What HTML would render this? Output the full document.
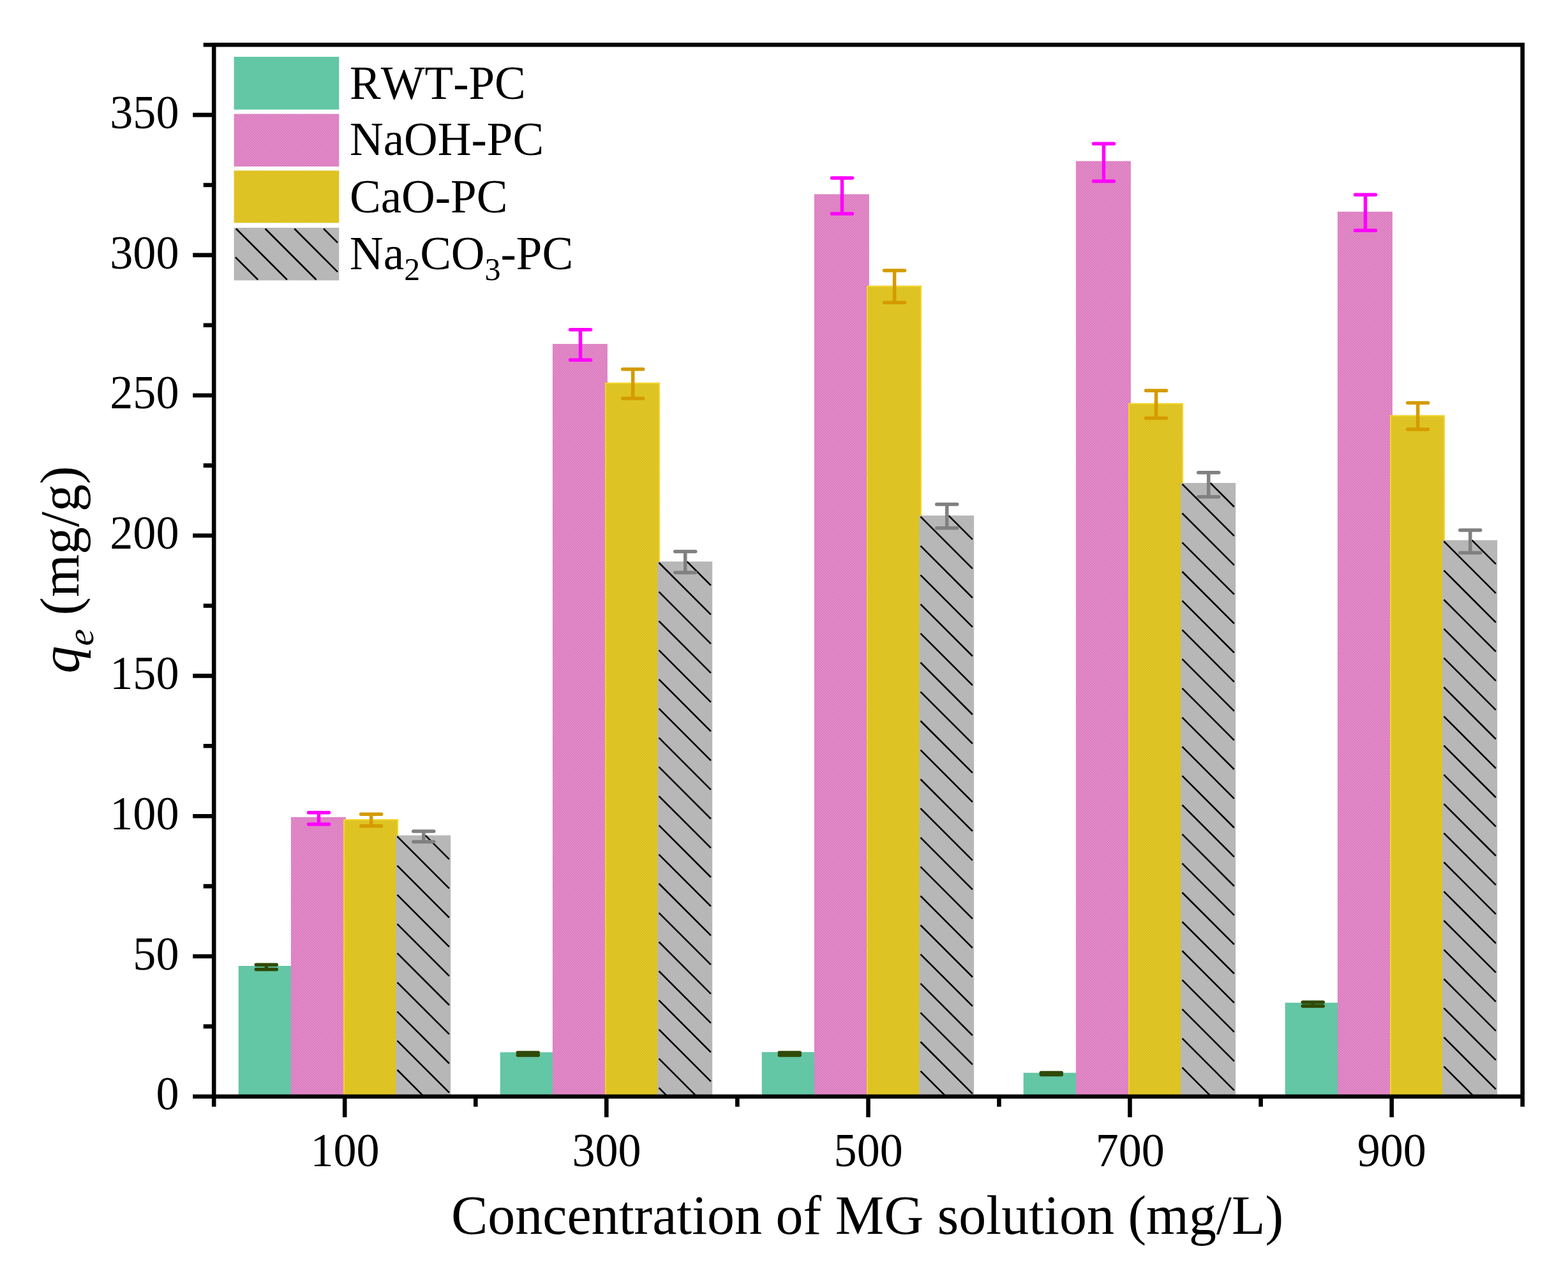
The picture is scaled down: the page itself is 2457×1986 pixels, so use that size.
<!DOCTYPE html>
<html><head><meta charset="utf-8"><title>q_e bar chart</title>
<style>html,body{margin:0;padding:0;background:#fff;}svg{display:block;}text{font-kerning:none;font-feature-settings:"kern" 0;}</style>
</head><body>
<svg width="2457" height="1986" viewBox="0 0 2457 1986"><defs><pattern id="pp" width="4" height="4" patternUnits="userSpaceOnUse"><rect width="4" height="4" fill="#e58ccb"/><rect width="2" height="2" fill="#d87cbd"/><rect x="2" y="2" width="2" height="2" fill="#d87cbd"/></pattern><pattern id="py" width="4" height="4" patternUnits="userSpaceOnUse"><rect width="4" height="4" fill="#e3c728"/><rect width="2" height="2" fill="#d9bf1f"/><rect x="2" y="2" width="2" height="2" fill="#d9bf1f"/></pattern></defs>
<rect width="2457" height="1986" fill="#fff"/>
<rect x="373.70" y="1514.00" width="86.00" height="204.80" fill="#63c6a5"/>
<rect x="455.90" y="1280.80" width="86.00" height="438.00" fill="url(#pp)"/>
<rect x="538.05" y="1284.10" width="86.00" height="434.70" fill="url(#py)"/>
<rect x="539.05" y="1285.10" width="84.00" height="434.70" fill="none" stroke="#f4d52c" stroke-width="2"/>
<rect x="620.20" y="1309.40" width="86.00" height="409.40" fill="#b7b7b7"/>
<path d="M622.5 1677.0L664.3 1718.8M622.5 1631.3L703.9 1712.7M622.5 1585.6L703.9 1667.0M622.5 1539.8L703.9 1621.2M622.5 1494.1L703.9 1575.5M622.5 1448.4L703.9 1529.8M622.5 1402.7L703.9 1484.1M622.5 1356.9L703.9 1438.3M622.5 1311.2L703.9 1392.6M666.4 1309.4L703.9 1346.9" stroke="#000" stroke-width="2.6" fill="none"/>
<rect x="783.70" y="1649.40" width="86.00" height="69.40" fill="#63c6a5"/>
<rect x="865.90" y="539.10" width="86.00" height="1179.70" fill="url(#pp)"/>
<rect x="948.05" y="599.80" width="86.00" height="1119.00" fill="url(#py)"/>
<rect x="949.05" y="600.80" width="84.00" height="1119.00" fill="none" stroke="#f4d52c" stroke-width="2"/>
<rect x="1030.20" y="880.20" width="86.00" height="838.60" fill="#b7b7b7"/>
<path d="M1032.5 1705.1L1046.2 1718.8M1032.5 1659.4L1091.9 1718.8M1032.5 1613.7L1113.9 1695.1M1032.5 1567.9L1113.9 1649.3M1032.5 1522.2L1113.9 1603.6M1032.5 1476.5L1113.9 1557.9M1032.5 1430.8L1113.9 1512.2M1032.5 1385.0L1113.9 1466.4M1032.5 1339.3L1113.9 1420.7M1032.5 1293.6L1113.9 1375.0M1032.5 1247.8L1113.9 1329.2M1032.5 1202.1L1113.9 1283.5M1032.5 1156.4L1113.9 1237.8M1032.5 1110.7L1113.9 1192.1M1032.5 1064.9L1113.9 1146.3M1032.5 1019.2L1113.9 1100.6M1032.5 973.5L1113.9 1054.9M1032.5 927.7L1113.9 1009.1M1032.5 882.0L1113.9 963.4M1076.4 880.2L1113.9 917.7" stroke="#000" stroke-width="2.6" fill="none"/>
<rect x="1193.70" y="1649.10" width="86.00" height="69.70" fill="#63c6a5"/>
<rect x="1275.90" y="304.40" width="86.00" height="1414.40" fill="url(#pp)"/>
<rect x="1358.05" y="447.80" width="86.00" height="1271.00" fill="url(#py)"/>
<rect x="1359.05" y="448.80" width="84.00" height="1271.00" fill="none" stroke="#f4d52c" stroke-width="2"/>
<rect x="1440.20" y="808.10" width="86.00" height="910.70" fill="#b7b7b7"/>
<path d="M1442.5 1678.8L1482.5 1718.8M1442.5 1633.0L1523.9 1714.4M1442.5 1587.3L1523.9 1668.7M1442.5 1541.6L1523.9 1623.0M1442.5 1495.8L1523.9 1577.2M1442.5 1450.1L1523.9 1531.5M1442.5 1404.4L1523.9 1485.8M1442.5 1358.7L1523.9 1440.1M1442.5 1312.9L1523.9 1394.3M1442.5 1267.2L1523.9 1348.6M1442.5 1221.5L1523.9 1302.9M1442.5 1175.7L1523.9 1257.1M1442.5 1130.0L1523.9 1211.4M1442.5 1084.3L1523.9 1165.7M1442.5 1038.5L1523.9 1120.0M1442.5 992.8L1523.9 1074.2M1442.5 947.1L1523.9 1028.5M1442.5 901.4L1523.9 982.8M1442.5 855.6L1523.9 937.0M1442.5 809.9L1523.9 891.3M1486.4 808.1L1523.9 845.6" stroke="#000" stroke-width="2.6" fill="none"/>
<rect x="1603.70" y="1681.60" width="86.00" height="37.20" fill="#63c6a5"/>
<rect x="1685.90" y="252.50" width="86.00" height="1466.30" fill="url(#pp)"/>
<rect x="1768.05" y="631.90" width="86.00" height="1086.90" fill="url(#py)"/>
<rect x="1769.05" y="632.90" width="84.00" height="1086.90" fill="none" stroke="#f4d52c" stroke-width="2"/>
<rect x="1850.20" y="757.00" width="86.00" height="961.80" fill="#b7b7b7"/>
<path d="M1852.5 1673.4L1897.9 1718.8M1852.5 1627.7L1933.9 1709.1M1852.5 1581.9L1933.9 1663.3M1852.5 1536.2L1933.9 1617.6M1852.5 1490.5L1933.9 1571.9M1852.5 1444.8L1933.9 1526.2M1852.5 1399.0L1933.9 1480.4M1852.5 1353.3L1933.9 1434.7M1852.5 1307.6L1933.9 1389.0M1852.5 1261.8L1933.9 1343.2M1852.5 1216.1L1933.9 1297.5M1852.5 1170.4L1933.9 1251.8M1852.5 1124.6L1933.9 1206.0M1852.5 1078.9L1933.9 1160.3M1852.5 1033.2L1933.9 1114.6M1852.5 987.4L1933.9 1068.8M1852.5 941.7L1933.9 1023.1M1852.5 896.0L1933.9 977.4M1852.5 850.3L1933.9 931.7M1852.5 804.5L1933.9 885.9M1852.5 758.8L1933.9 840.2M1896.4 757.0L1933.9 794.5" stroke="#000" stroke-width="2.6" fill="none"/>
<rect x="2013.70" y="1571.75" width="86.00" height="147.05" fill="#63c6a5"/>
<rect x="2095.90" y="331.80" width="86.00" height="1387.00" fill="url(#pp)"/>
<rect x="2178.05" y="650.80" width="86.00" height="1068.00" fill="url(#py)"/>
<rect x="2179.05" y="651.80" width="84.00" height="1068.00" fill="none" stroke="#f4d52c" stroke-width="2"/>
<rect x="2260.20" y="846.70" width="86.00" height="872.10" fill="#b7b7b7"/>
<path d="M2262.5 1717.4L2263.9 1718.8M2262.5 1671.6L2309.7 1718.8M2262.5 1625.9L2343.9 1707.3M2262.5 1580.2L2343.9 1661.6M2262.5 1534.5L2343.9 1615.8M2262.5 1488.7L2343.9 1570.1M2262.5 1443.0L2343.9 1524.4M2262.5 1397.3L2343.9 1478.7M2262.5 1351.5L2343.9 1432.9M2262.5 1305.8L2343.9 1387.2M2262.5 1260.1L2343.9 1341.5M2262.5 1214.3L2343.9 1295.7M2262.5 1168.6L2343.9 1250.0M2262.5 1122.9L2343.9 1204.3M2262.5 1077.2L2343.9 1158.5M2262.5 1031.4L2343.9 1112.8M2262.5 985.7L2343.9 1067.1M2262.5 940.0L2343.9 1021.4M2262.5 894.2L2343.9 975.6M2262.5 848.5L2343.9 929.9M2306.4 846.7L2343.9 884.2" stroke="#000" stroke-width="2.6" fill="none"/>
<path d="M401.3 1512.3H433.3M401.3 1519.5H433.3M417.3 1512.3V1519.5" stroke="#2f4a06" stroke-width="5.5" stroke-linecap="round" fill="none"/>
<path d="M483.5 1273.8H515.5M483.5 1291.9H515.5M499.5 1273.8V1291.9" stroke="#ff00ff" stroke-width="5.5" stroke-linecap="round" fill="none"/>
<path d="M565.6 1276.2H597.6M565.6 1294.7H597.6M581.6 1276.2V1294.7" stroke="#d49b00" stroke-width="5.5" stroke-linecap="round" fill="none"/>
<path d="M647.8 1303.0H679.8M647.8 1319.5H679.8M663.8 1303.0V1319.5" stroke="#808080" stroke-width="5.5" stroke-linecap="round" fill="none"/>
<path d="M811.3 1649.9H843.3M811.3 1653.9H843.3M827.3 1649.9V1653.9" stroke="#2f4a06" stroke-width="5.5" stroke-linecap="round" fill="none"/>
<path d="M893.5 516.8H925.5M893.5 564.3H925.5M909.5 516.8V564.3" stroke="#ff00ff" stroke-width="5.5" stroke-linecap="round" fill="none"/>
<path d="M975.7 578.7H1007.7M975.7 624.5H1007.7M991.7 578.7V624.5" stroke="#d49b00" stroke-width="5.5" stroke-linecap="round" fill="none"/>
<path d="M1057.8 864.6H1089.8M1057.8 897.6H1089.8M1073.8 864.6V897.6" stroke="#808080" stroke-width="5.5" stroke-linecap="round" fill="none"/>
<path d="M1221.3 1649.9H1253.3M1221.3 1653.9H1253.3M1237.3 1649.9V1653.9" stroke="#2f4a06" stroke-width="5.5" stroke-linecap="round" fill="none"/>
<path d="M1303.5 278.9H1335.5M1303.5 335.0H1335.5M1319.5 278.9V335.0" stroke="#ff00ff" stroke-width="5.5" stroke-linecap="round" fill="none"/>
<path d="M1385.6 424.0H1417.6M1385.6 474.3H1417.6M1401.6 424.0V474.3" stroke="#d49b00" stroke-width="5.5" stroke-linecap="round" fill="none"/>
<path d="M1467.8 790.4H1499.8M1467.8 827.8H1499.8M1483.8 790.4V827.8" stroke="#808080" stroke-width="5.5" stroke-linecap="round" fill="none"/>
<path d="M1631.3 1681.5H1663.3M1631.3 1684.5H1663.3M1647.3 1681.5V1684.5" stroke="#2f4a06" stroke-width="5.5" stroke-linecap="round" fill="none"/>
<path d="M1713.5 225.2H1745.5M1713.5 284.0H1745.5M1729.5 225.2V284.0" stroke="#ff00ff" stroke-width="5.5" stroke-linecap="round" fill="none"/>
<path d="M1795.6 612.2H1827.6M1795.6 655.4H1827.6M1811.6 612.2V655.4" stroke="#d49b00" stroke-width="5.5" stroke-linecap="round" fill="none"/>
<path d="M1877.8 740.8H1909.8M1877.8 778.8H1909.8M1893.8 740.8V778.8" stroke="#808080" stroke-width="5.5" stroke-linecap="round" fill="none"/>
<path d="M2041.3 1571.0H2073.3M2041.3 1577.0H2073.3M2057.3 1571.0V1577.0" stroke="#2f4a06" stroke-width="5.5" stroke-linecap="round" fill="none"/>
<path d="M2123.5 305.2H2155.5M2123.5 361.2H2155.5M2139.5 305.2V361.2" stroke="#ff00ff" stroke-width="5.5" stroke-linecap="round" fill="none"/>
<path d="M2205.7 631.4H2237.7M2205.7 672.9H2237.7M2221.7 631.4V672.9" stroke="#d49b00" stroke-width="5.5" stroke-linecap="round" fill="none"/>
<path d="M2287.8 831.1H2319.8M2287.8 866.4H2319.8M2303.8 831.1V866.4" stroke="#808080" stroke-width="5.5" stroke-linecap="round" fill="none"/>
<rect x="366.6" y="89.0" width="164.7" height="82.7" fill="#63c6a5"/>
<rect x="366.6" y="178.6" width="164.7" height="82.4" fill="url(#pp)"/>
<rect x="366.6" y="267.4" width="164.7" height="81.9" fill="url(#py)"/>
<rect x="366.6" y="357.0" width="164.7" height="82.5" fill="#b7b7b7"/>
<path d="M368.9 403.2L404.2 438.5M369.9 358.5L449.9 438.5M415.6 358.5L495.6 438.5M461.4 358.5L529.0 426.1M507.1 358.5L529.0 380.4" stroke="#000" stroke-width="2.6" fill="none"/>
<text x="548" y="154.8" font-family="'Liberation Serif','Times New Roman',serif" font-size="73" fill="#000">RWT-PC</text>
<text x="548" y="243.4" font-family="'Liberation Serif','Times New Roman',serif" font-size="73" fill="#000">NaOH-PC</text>
<text x="548" y="333.2" font-family="'Liberation Serif','Times New Roman',serif" font-size="73" fill="#000">CaO-PC</text>
<text x="548" y="422.0" font-family="'Liberation Serif','Times New Roman',serif" font-size="73" fill="#000">Na<tspan font-size="50" dy="17">2</tspan><tspan dy="-17">CO</tspan><tspan font-size="50" dy="17">3</tspan><tspan dy="-17">-PC</tspan></text>
<rect x="335.2" y="70.2" width="2050.5" height="1648.6" fill="none" stroke="#000" stroke-width="6.6"/>
<path d="M302.2 1718.8H335.2M318.7 1608.9H335.2M302.2 1499.0H335.2M318.7 1389.1H335.2M302.2 1279.2H335.2M318.7 1169.3H335.2M302.2 1059.4H335.2M318.7 949.5H335.2M302.2 839.5H335.2M318.7 729.6H335.2M302.2 619.7H335.2M318.7 509.8H335.2M302.2 399.9H335.2M318.7 290.0H335.2M302.2 180.1H335.2M318.7 70.2H335.2M335.2 1718.8V1734.8M540.2 1718.8V1751.3M745.3 1718.8V1734.8M950.3 1718.8V1751.3M1155.4 1718.8V1734.8M1360.5 1718.8V1751.3M1565.5 1718.8V1734.8M1770.5 1718.8V1751.3M1975.6 1718.8V1734.8M2180.7 1718.8V1751.3M2385.7 1718.8V1734.8" stroke="#000" stroke-width="6.6" fill="none"/>
<text transform="translate(280.5 1739.4) scale(0.975 1)" text-anchor="end" font-family="'Liberation Serif','Times New Roman',serif" font-size="74">0</text>
<text transform="translate(280.5 1519.6) scale(0.975 1)" text-anchor="end" font-family="'Liberation Serif','Times New Roman',serif" font-size="74">50</text>
<text transform="translate(280.5 1299.8) scale(0.975 1)" text-anchor="end" font-family="'Liberation Serif','Times New Roman',serif" font-size="74">100</text>
<text transform="translate(280.5 1080.0) scale(0.975 1)" text-anchor="end" font-family="'Liberation Serif','Times New Roman',serif" font-size="74">150</text>
<text transform="translate(280.5 860.1) scale(0.975 1)" text-anchor="end" font-family="'Liberation Serif','Times New Roman',serif" font-size="74">200</text>
<text transform="translate(280.5 640.3) scale(0.975 1)" text-anchor="end" font-family="'Liberation Serif','Times New Roman',serif" font-size="74">250</text>
<text transform="translate(280.5 420.5) scale(0.975 1)" text-anchor="end" font-family="'Liberation Serif','Times New Roman',serif" font-size="74">300</text>
<text transform="translate(280.5 200.7) scale(0.975 1)" text-anchor="end" font-family="'Liberation Serif','Times New Roman',serif" font-size="74">350</text>
<text transform="translate(540.5 1827.8) scale(0.975 1)" text-anchor="middle" font-family="'Liberation Serif','Times New Roman',serif" font-size="74">100</text>
<text transform="translate(950.5 1827.8) scale(0.975 1)" text-anchor="middle" font-family="'Liberation Serif','Times New Roman',serif" font-size="74">300</text>
<text transform="translate(1360.7 1827.8) scale(0.975 1)" text-anchor="middle" font-family="'Liberation Serif','Times New Roman',serif" font-size="74">500</text>
<text transform="translate(1770.8 1827.8) scale(0.975 1)" text-anchor="middle" font-family="'Liberation Serif','Times New Roman',serif" font-size="74">700</text>
<text transform="translate(2180.8 1827.8) scale(0.975 1)" text-anchor="middle" font-family="'Liberation Serif','Times New Roman',serif" font-size="74">900</text>
<text x="1359" y="1933.5" text-anchor="middle" font-family="'Liberation Serif','Times New Roman',serif" font-size="86">Concentration of MG solution (mg/L)</text>
<text transform="translate(122.5 893) rotate(-90)" text-anchor="middle" font-family="'Liberation Serif','Times New Roman',serif" font-size="86"><tspan font-style="italic">q</tspan><tspan font-style="italic" font-size="60" dy="23">e</tspan><tspan dy="-23"> (mg/g)</tspan></text></svg>
</body></html>
